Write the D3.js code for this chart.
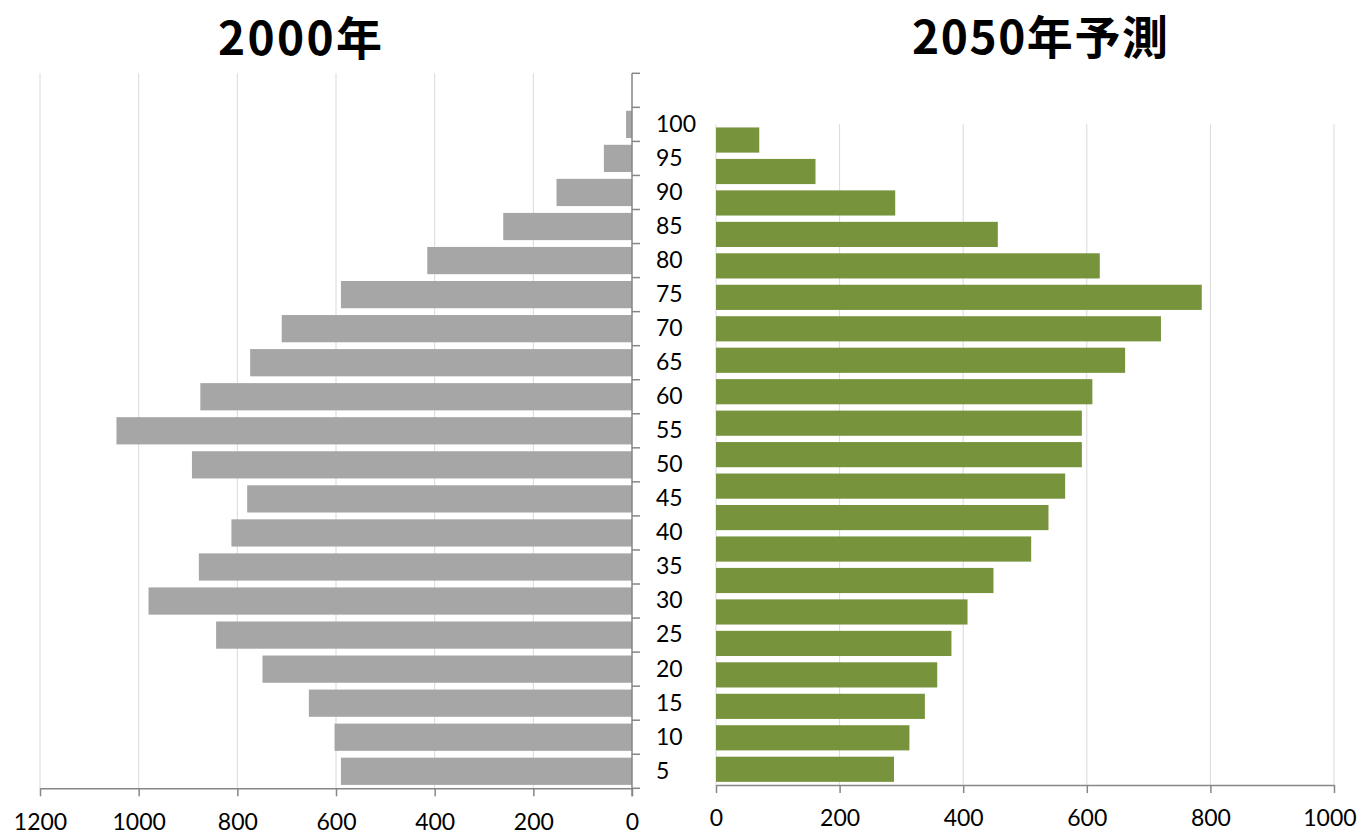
<!DOCTYPE html>
<html>
<head>
<meta charset="utf-8">
<script src="https://cdn.jsdelivr.net/npm/d3@7"></script>
<style>
  html, body { margin: 0; padding: 0; background: #ffffff; }
  svg { display: block; }
</style>
</head>
<body>
<svg id="chart" width="1360" height="835"></svg>
<script>
// ---- Data ----
const leftTitle = "2000年";
const rightTitle = "2050年予測";

const leftAges = ["", "100", "95", "90", "85", "80", "75", "70", "65", "60", "55",
                  "50", "45", "40", "35", "30", "25", "20", "15", "10", "5"];
const leftValues = [null, 12, 57, 153, 261, 415, 590, 710, 774, 875, 1045,
                    892, 780, 812, 878, 980, 843, 749, 655, 603, 590];

const rightAges = ["100", "95", "90", "85", "80", "75", "70", "65", "60", "55", "50",
                   "45", "40", "35", "30", "25", "20", "15", "10", "5", "0"];
const rightValues = [70, 161, 290, 456, 621, 786, 720, 662, 609, 592, 592,
                     565, 538, 510, 449, 407, 381, 358, 338, 313, 288];

const leftTicks = [0, 200, 400, 600, 800, 1000, 1200];
const rightTicks = [0, 200, 400, 600, 800, 1000];

// ---- Styles ----
const AXIS = "#868686";
const GRID = "#d9d9d9";
const GRAY_BAR = "#a6a6a6";
const GREEN_BAR = "#77933c";
const FONT = "Lato, 'Open Sans', sans-serif";
const TITLE_FONT = "'Noto Sans CJK JP', sans-serif";
const fmt = d3.format("d");

const svg = d3.select("#chart");

// ---- Left chart (2000) ----
const xL = d3.scaleLinear().domain([0, 1200]).range([632, 40]);
const yL = d3.scaleBand().domain(leftAges).range([73.3, 788.3])
  .paddingInner(0.2).paddingOuter(0.1);
const stepL = yL.step();
const topL = yL.range()[0], botL = yL.range()[1];

const gL = svg.append("g");
// gridlines
gL.append("g").selectAll("line").data(leftTicks.filter(d => d !== 0)).join("line")
  .attr("x1", d => xL(d)).attr("x2", d => xL(d))
  .attr("y1", topL).attr("y2", botL)
  .attr("stroke", GRID).attr("stroke-width", 1);
// bars
gL.append("g").selectAll("rect")
  .data(leftAges.map((a, i) => ({age: a, v: leftValues[i]})).filter(d => d.v != null))
  .join("rect")
  .attr("x", d => xL(d.v)).attr("width", d => xL(0) - xL(d.v))
  .attr("y", d => yL(d.age)).attr("height", yL.bandwidth())
  .attr("fill", GRAY_BAR);
// x axis
const axL = gL.append("g").attr("transform", `translate(0,${botL})`)
  .call(d3.axisBottom(xL).tickValues(leftTicks).tickFormat(fmt)
    .tickSize(8).tickPadding(17).tickSizeOuter(0));
axL.select(".domain").attr("stroke", AXIS).attr("stroke-width", 1.5);
axL.selectAll(".tick line").attr("stroke", AXIS).attr("stroke-width", 1.5);
axL.selectAll("text").attr("font-family", FONT).attr("font-size", 23).attr("fill", "#000");
// y axis (category labels on the right side of the left chart)
const ayL = gL.append("g").attr("transform", `translate(${xL(0)},0)`)
  .call(d3.axisRight(yL).tickSize(0).tickPadding(24));
ayL.select(".domain").remove();
ayL.selectAll("text").attr("font-family", FONT).attr("font-size", 23).attr("fill", "#000");
// y axis line + boundary ticks
gL.append("line").attr("x1", xL(0)).attr("x2", xL(0)).attr("y1", topL).attr("y2", botL + 8)
  .attr("stroke", AXIS).attr("stroke-width", 1.5);
gL.append("g").selectAll("line").data(d3.range(leftAges.length + 1)).join("line")
  .attr("x1", xL(0)).attr("x2", xL(0) + 8)
  .attr("y1", i => topL + i * stepL).attr("y2", i => topL + i * stepL)
  .attr("stroke", AXIS).attr("stroke-width", 1.5);
// title
svg.append("text").attr("x", 300).attr("y", 55).attr("text-anchor", "middle")
  .attr("font-family", TITLE_FONT).attr("font-weight", "bold").attr("font-size", 46)
  .attr("textLength", 164).attr("lengthAdjust", "spacing")
  .attr("fill", "#000").text(leftTitle);

// ---- Right chart (2050) ----
const xR = d3.scaleLinear().domain([0, 1000]).range([716, 1334]);
const yR = d3.scaleBand().domain(rightAges).range([124.3, 785])
  .paddingInner(0.2).paddingOuter(0.1);
const topR = yR.range()[0], botR = yR.range()[1];

const gR = svg.append("g");
gR.append("g").selectAll("line").data(rightTicks).join("line")
  .attr("x1", d => xR(d)).attr("x2", d => xR(d))
  .attr("y1", topR).attr("y2", botR)
  .attr("stroke", GRID).attr("stroke-width", 1);
gR.append("g").selectAll("rect")
  .data(rightAges.map((a, i) => ({age: a, v: rightValues[i]})))
  .join("rect")
  .attr("x", xR(0)).attr("width", d => xR(d.v) - xR(0))
  .attr("y", d => yR(d.age)).attr("height", yR.bandwidth())
  .attr("fill", GREEN_BAR);
const axR = gR.append("g").attr("transform", `translate(0,${botR})`)
  .call(d3.axisBottom(xR).tickValues(rightTicks).tickFormat(fmt)
    .tickSize(8).tickPadding(17).tickSizeOuter(0));
axR.select(".domain").attr("stroke", AXIS).attr("stroke-width", 1.5);
axR.selectAll(".tick line").attr("stroke", AXIS).attr("stroke-width", 1.5);
axR.selectAll("text").attr("font-family", FONT).attr("font-size", 23).attr("fill", "#000");
axR.selectAll(".tick").filter(d => d === 1000).select("text").attr("dx", "-0.2em");
svg.append("text").attr("x", 1040).attr("y", 53.5).attr("text-anchor", "middle")
  .attr("font-family", TITLE_FONT).attr("font-weight", "bold").attr("font-size", 46)
  .attr("textLength", 256).attr("lengthAdjust", "spacing")
  .attr("fill", "#000").text(rightTitle);
</script>
</body>
</html>
